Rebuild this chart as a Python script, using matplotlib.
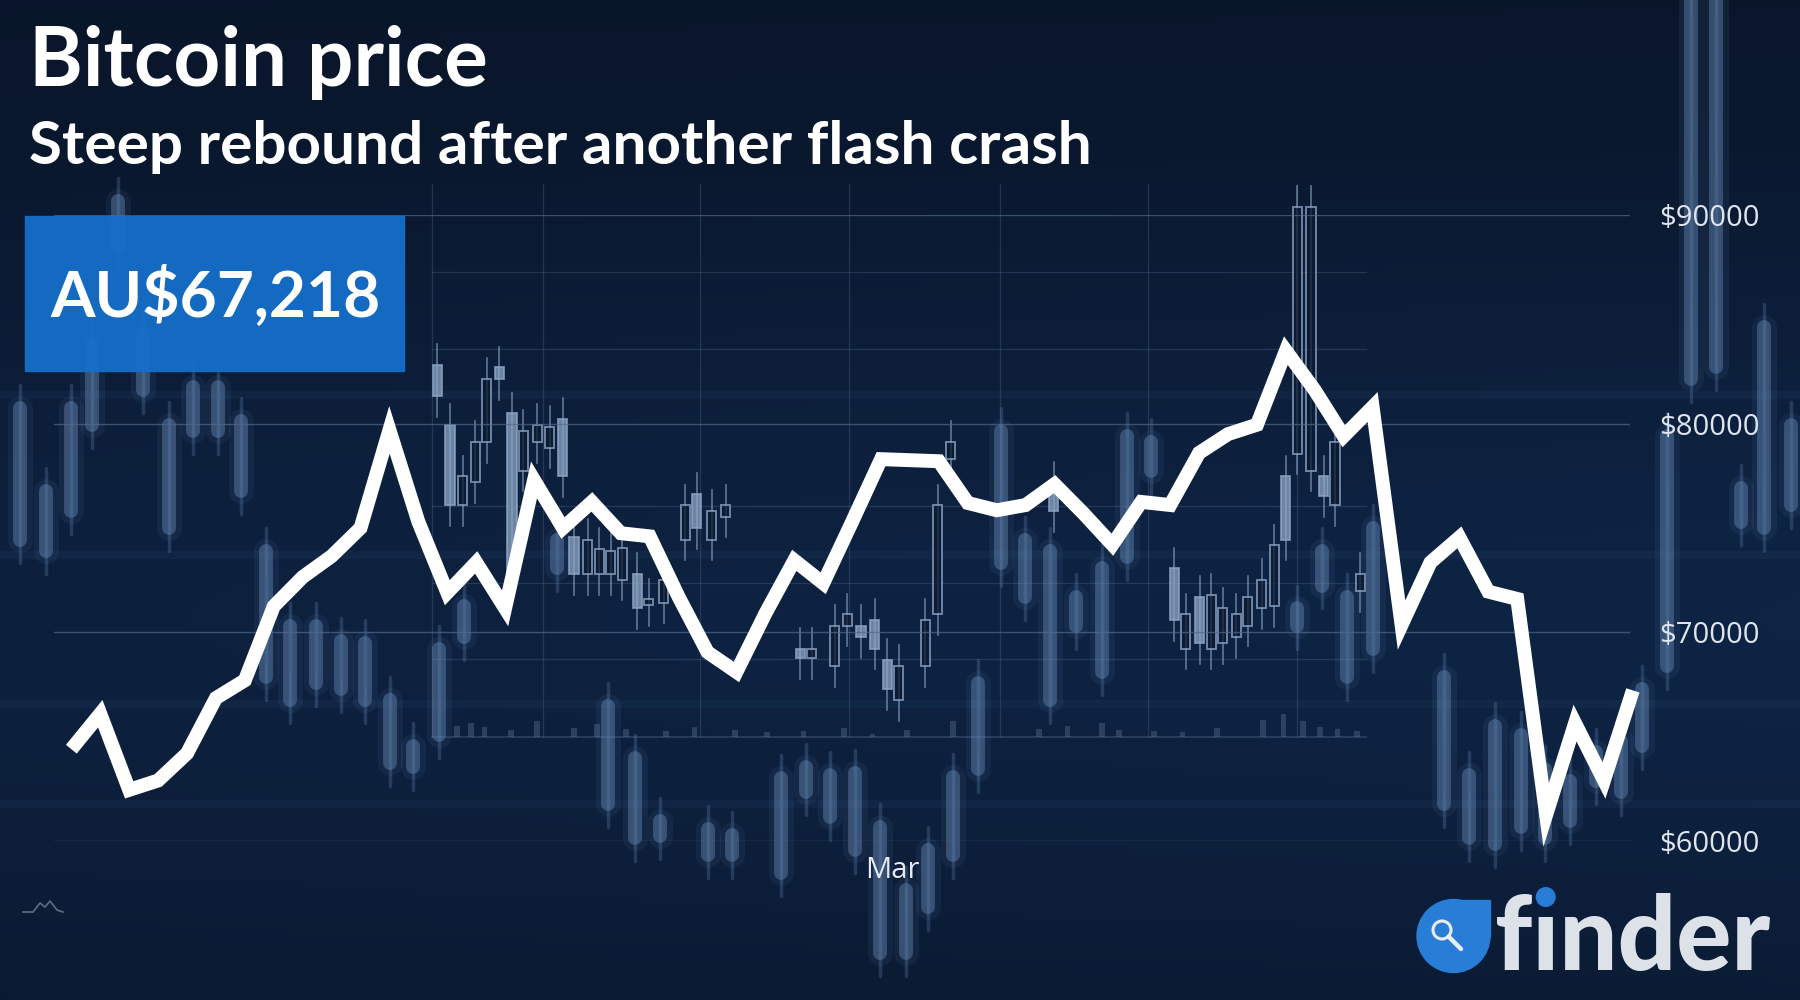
import numpy as np
import matplotlib
matplotlib.use("Agg")
import matplotlib.pyplot as plt
from matplotlib.colors import LinearSegmentedColormap
from matplotlib.patches import Rectangle, Circle

plt.rcParams['font.family'] = ['Open Sans', 'DejaVu Sans']

# ---- chart data -----------------------------------------------------------
prices = [64400, 66100, 62450, 62900, 64200, 66850, 67700, 71250, 72650, 73650,
          75000, 79700, 75300, 71900, 73350, 71150, 77300, 75000, 76250, 74750,
          74600, 71700, 69050, 68100, 70900, 73450, 72350, 75300, 78300, 78250,
          78200, 76200, 75850, 76100, 77100, 75700, 74200, 76250, 76100, 78600,
          79500, 79950, 83500, 81600, 79400, 80800, 70350, 73350, 74550, 71950,
          71600, 61250, 65650, 62900, 67218]
days = np.arange(len(prices))
month_pos = [28.4]
month_labels = ["Mar"]
y_ticks = [60000, 70000, 80000, 90000]
y_labels = ["$%d" % v for v in y_ticks]

title = "Bitcoin price"
subtitle = "Steep rebound after another flash crash"
price_text = "AU${:,}".format(prices[-1])
brand = "f\u0131nder"

# ---- backdrop (photo of candlesticks), in its own 1568 x 871 scale --------
blur_x = [17, 40, 62, 80, 103, 125, 147, 168, 190, 210, 232, 253, 275, 297,
          318, 340, 360, 382, 404, 485, 530, 553, 575, 617, 638, 680, 702,
          723, 745, 767, 789, 808, 830, 852, 872, 893, 915, 937, 960, 982,
          1003, 1130, 1152, 1173, 1196, 1258, 1280, 1302, 1325, 1346, 1368,
          1390, 1412, 1430, 1452, 1473, 1495, 1517, 1537, 1560]
blur_top = [355, 428, 355, 300, 175, 290, 370, 337, 337, 367, 480, 545, 545,
            558, 560, 610, 650, 565, 528, 470, 615, 660, 715, 722, 727, 678,
            668, 675, 673, 720, 775, 740, 677, 595, 375, 470, 480, 520, 495,
            380, 385, 530, 480, 520, 460, 590, 675, 632, 640, 670, 680, 655,
            645, 600, 380, 0, 0, 425, 285, 370]
blur_bot = [470, 480, 445, 370, 215, 340, 460, 375, 375, 428, 590, 610, 595,
            600, 610, 665, 668, 640, 555, 495, 700, 730, 728, 745, 745, 760,
            690, 712, 740, 830, 830, 790, 745, 670, 490, 520, 610, 545, 585,
            485, 410, 545, 510, 590, 565, 700, 730, 735, 720, 730, 715, 680,
            690, 650, 580, 330, 320, 455, 460, 440]

line_x = [376, 473, 610, 740, 871, 1000, 1130]
line_y = [237, 304, 441, 508, 574]

vol_x = [398, 410, 422, 445, 468, 500, 520, 545, 580, 605, 640, 668, 700,
         735, 760, 790, 830, 905, 930, 960, 975, 1005, 1030, 1060, 1100,
         1118, 1135, 1150, 1165, 1182]
vol_h = [10, 12, 9, 6, 14, 8, 11, 7, 5, 9, 6, 4, 5, 8, 3, 6, 14, 7, 10, 12,
         6, 5, 4, 8, 15, 20, 14, 9, 7, 5]

oc_x = [381, 392, 403, 414, 424, 435, 446, 456, 468, 479, 490, 500, 512, 522,
        532, 542, 555, 565, 578, 597, 607, 620, 632, 697, 707, 727, 738, 750,
        762, 773, 783, 806, 817, 828, 918, 1023, 1033, 1045, 1055, 1065, 1077,
        1087, 1099, 1110, 1120, 1130, 1142, 1153, 1163, 1185]
oc_top = [318, 370, 415, 385, 330, 320, 360, 375, 370, 372, 365, 468, 470, 478,
          480, 477, 500, 522, 505, 440, 430, 445, 440, 565, 565, 545, 535, 545,
          540, 575, 580, 540, 440, 385, 420, 495, 535, 520, 518, 530, 535, 520,
          505, 475, 415, 180, 180, 415, 385, 500]
oc_bot = [345, 440, 440, 420, 385, 330, 505, 410, 385, 390, 415, 500, 500, 500,
          500, 505, 530, 527, 525, 470, 460, 470, 450, 573, 573, 580, 545, 555,
          565, 600, 610, 580, 535, 400, 445, 540, 565, 560, 565, 560, 555, 545,
          530, 528, 470, 395, 410, 432, 440, 515]
oc_fill = [1, 1, 0, 0, 0, 1, 1, 0, 0, 0, 1, 1, 0, 0, 0, 0, 1, 0, 0, 0, 1, 0, 0,
           1, 0, 0, 0, 1, 1, 1, 0, 0, 0, 0, 1, 1, 0, 1, 0, 0, 0, 0, 0, 0, 1, 0,
           0, 1, 0, 0]

W, H = 1800, 1000
fig = plt.figure(figsize=(18, 10), dpi=100)

# background gradient + photo candles
bg = fig.add_axes([0, 0, 1, 1])
bg.set_xlim(0, 1568)
bg.set_ylim(871, 0)
bg.axis('off')
yy, xx = np.mgrid[0:1:200j, 0:1:360j]
field = 0.25 + 0.75 * np.exp(-((yy - 0.62) / 0.38) ** 2) * (0.75 + 0.25 * xx)
cmap = LinearSegmentedColormap.from_list('navy', ['#060f1d', '#0b1b34', '#0e2444'])
bg.imshow(field, extent=[0, 1568, 871, 0], cmap=cmap, aspect='auto',
          vmin=0, vmax=1, zorder=0)
for yb in [344, 483, 613, 700]:
    bg.axhline(yb, color='#1d3658', lw=6, alpha=0.3, zorder=1)
for xv in line_x:
    bg.plot([xv, xv], [160, 642], color='#5a7394', lw=0.9, alpha=0.3, zorder=1)
for yv in line_y:
    bg.plot([376, 1190], [yv, yv], color='#5a7394', lw=0.9, alpha=0.3, zorder=1)
bg.plot([376, 1190], [642, 642], color='#5a7394', lw=1.2, alpha=0.4, zorder=1)
bg.bar(vol_x, vol_h, bottom=[642 - h for h in vol_h], width=5,
       color='#5a7394', alpha=0.4, zorder=1)

for x, t, b in zip(blur_x, blur_top, blur_bot):
    bg.plot([x, x], [t - 20, b + 20], color='#5f82af', lw=2.5, alpha=0.3,
            solid_capstyle='round', zorder=2)
    bg.plot([x, x], [t, b], color='#5f82af', lw=18, alpha=0.1,
            solid_capstyle='round', zorder=2)
    bg.plot([x, x], [t, b], color='#6a8cb8', lw=10, alpha=0.42,
            solid_capstyle='round', zorder=2)

for x, t, b, f in zip(oc_x, oc_top, oc_bot, oc_fill):
    bg.plot([x, x], [t - 18, b + 18], color='#8ea6c6', lw=1.2, alpha=0.65, zorder=3)
    bg.add_patch(Rectangle((x - 4, t), 8, b - t, lw=1.4, ec='#8ea6c6',
                           fc='#8ea6c6' if f else '#0b1a30', alpha=0.75, zorder=3))

# ---- main chart ----------------------------------------------------------
ax = fig.add_axes([54 / W, 1 - 841 / H, (1630 - 54) / W, (841 - 215) / H])
ax.patch.set_alpha(0)
ax.plot(days, prices, color='white', lw=10, solid_joinstyle='miter',
        solid_capstyle='butt', clip_on=False, zorder=5)
ax.set_xlim(-0.6, 53.9)
ax.set_ylim(60000, 90000)
ax.set_yticks(y_ticks)
ax.set_yticklabels(y_labels)
ax.yaxis.tick_right()
ax.tick_params(axis='y', length=0, pad=21, labelsize=21, labelcolor='#dfe5ee')
ax.set_xticks(month_pos)
ax.set_xticklabels(month_labels)
ax.tick_params(axis='x', length=0, pad=11, labelsize=21, labelcolor='#e6eaf0')
ax.grid(axis='y', color='#52698a', lw=1, alpha=0.7)
ax.grid(axis='x', visible=False)
for s in ax.spines.values():
    s.set_visible(False)

# ---- overlay: titles, price box, logo (1 unit = 1 pixel) ------------------
ov = fig.add_axes([0, 0, 1, 1])
ov.set_xlim(0, W)
ov.set_ylim(H, 0)
ov.axis('off')
ov.patch.set_alpha(0)

ov.add_patch(Rectangle((25, 216), 379, 155, color='#1570cc', alpha=0.93, zorder=4))

renderer = fig.canvas.get_renderer()


def fit(t, width):
    bb = t.get_window_extent(renderer=renderer)
    t.set_fontsize(t.get_fontsize() * width / bb.width)
    return t


fit(ov.text(29, 86, title, color='white', weight='bold', family='Lato',
            fontsize=60, va='baseline', zorder=6), 459)
fit(ov.text(29, 164, subtitle, color='white', weight='bold', family='Lato',
            fontsize=45, va='baseline', zorder=6), 1064)
fit(ov.text(50, 317, price_text, color='white', weight='bold', family='Lato',
            fontsize=40, va='baseline', zorder=6), 330)

# finder logo
ov.add_patch(Circle((1453.5, 936), 36.5, color='#287dd7', zorder=6))
ov.add_patch(Rectangle((1453.5, 899.5), 36.5, 36.5, color='#287dd7', zorder=6))
ov.add_patch(Circle((1442, 930), 9, fill=False, ec='#e8edf2', lw=2.2, zorder=7))
ov.plot([1448.5, 1461], [936.5, 949], color='#e8edf2', lw=3.2,
        solid_capstyle='round', zorder=7)
bt = fit(ov.text(1495, 970, brand, color='#dde2e8', weight='black',
                 family='Lato', fontsize=60, va='baseline', zorder=6), 275)
fs = bt.get_fontsize()
tf = ov.text(0, 0, brand[0], weight='black', family='Lato', fontsize=fs)
tfi = ov.text(0, 0, brand[:2], weight='black', family='Lato', fontsize=fs)
w_f = tf.get_window_extent(renderer=renderer).width
w_fi = tfi.get_window_extent(renderer=renderer).width
tf.remove()
tfi.remove()
ov.add_patch(Circle((1495 + (w_f + w_fi) / 2, 897), 9.3, color='#287dd7', zorder=7))

# tiny mark bottom-left
ov.plot([23, 33, 40, 45, 50, 57, 63], [912, 912, 903, 907, 901, 910, 912],
        color='#5d6e84', lw=1.2, zorder=6)

fig.savefig("out.png", dpi=100, facecolor='#0a1628')
